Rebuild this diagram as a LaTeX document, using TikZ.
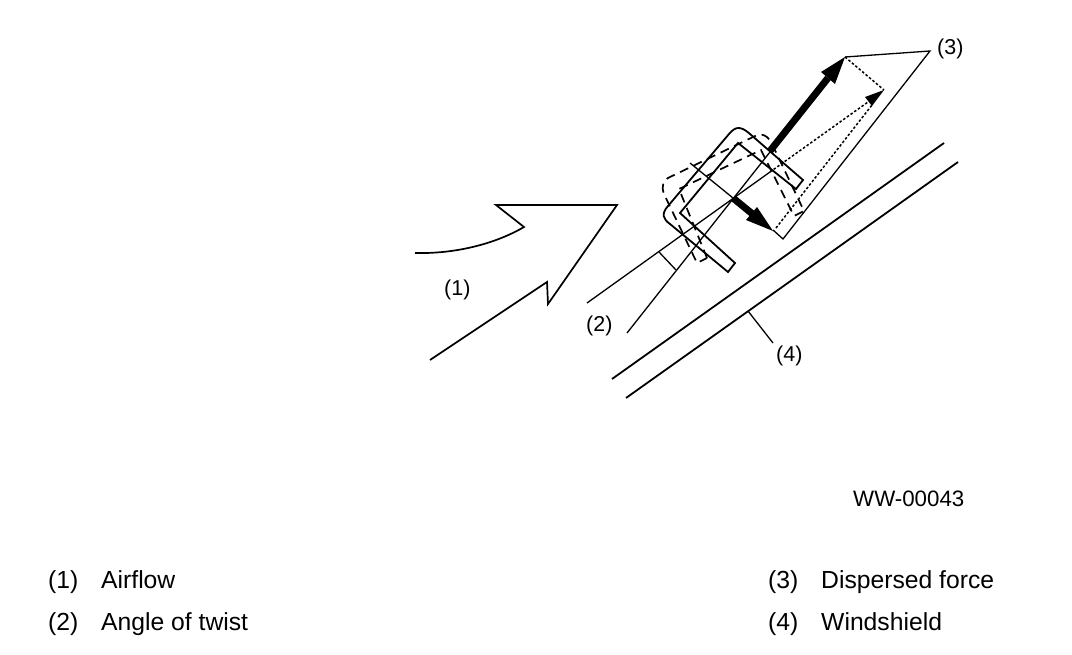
\documentclass[tikz,border=0pt]{standalone}
\usepackage{fontspec}
\setmainfont{Liberation Sans}
\begin{document}
\begin{tikzpicture}[x=1pt,y=-1pt,
  thinl/.style={line width=1.3pt,line join=miter},
  wiper/.style={line width=1.8pt,rounded corners=0pt},
  lab/.style={inner sep=0pt,font=\fontsize{24.7}{26}\selectfont,anchor=base west},
  dia/.style={inner sep=0pt,font=\fontsize{21.5}{24}\selectfont,anchor=base west},
  dot/.style={line width=1.5pt,dash pattern=on 2.5pt off 2pt},
  dsh/.style={line width=1.7pt,dash pattern=on 9pt off 6pt},
  hv/.style={line width=7pt},
  ]
\useasboundingbox (0,0) rectangle (1072,654);
% big arrow
\draw[line width=1.7pt,line join=miter] (415,253) .. controls (455,254) and (495,244) .. (524,227) -- (496,205) -- (617,205) -- (548,304) -- (547,282) -- (430,360);
% windshield
\draw[line width=1.8pt] (612,379) -- (944,143);
\draw[line width=1.8pt] (626,398) -- (958,162);
\coordinate (wsl) at (748,311);
\coordinate (wsr) at (773,343);
\draw[thinl] (wsl) -- (wsr);
% reference lines
\draw[thinl] (587,303) -- (770,172);
\draw[thinl] (627,333) -- (770,152);
\draw[thinl] (659,252) -- (676,270);
\draw[thinl] (690,163) -- (733,198);
% force parallelogram
\draw[thinl] (845,57) -- (930,51) -- (783,239) -- (773,230);
\draw[dot] (770,172) -- (868,102);
\draw[dot] (845,57) -- (884,90);
\draw[dot] (776,228) -- (872,105);
\fill (884,90) -- (865,97) -- (872,106) -- cycle;
% thick arrows
\draw[hv] (770,151) -- (828,78);
\fill (845,57) -- (821,72) -- (835,84) -- cycle;
\draw[hv] (733,198) -- (755,216);
\fill (773,231) -- (757,207) -- (746,220) -- cycle;
% solid wiper
\draw[wiper] (735,263) -- (680,213) -- (738,143) -- (796,189) -- (803,180)
  -- (750,134) .. controls (740,125) and (735,127) .. (729,134)
  -- (668,206) .. controls (661,214) and (663,219) .. (670,224) -- (728,272) -- cycle;
% dashed wiper
\draw[dsh] (707,258) -- (679,189) -- (761,150) -- (794,216) -- (804,211)
  -- (773,146) .. controls (768,135) and (762,132) .. (753,137)
  -- (670,177) .. controls (663,180) and (661,186) .. (664,194) -- (697,263) -- cycle;
% labels
\node[dia] (n3) at (937,54) {(3)};
\node[dia] (n1) at (444,295) {(1)};
\node[dia] (n2) at (586,331) {(2)};
\node[dia] (n4) at (776,361) {(4)};
\node[dia,font=\fontsize{22.3}{24}\selectfont] (code) at (853,506) {WW-00043};
\node[lab] (a1) at (48,588) {(1)};
\node[lab] (b1) at (101,588) {Airflow};
\node[lab] (a2) at (48,630) {(2)};
\node[lab] (b2) at (101,630) {Angle of twist};
\node[lab] (a3) at (768,588) {(3)};
\node[lab] (b3) at (821,588) {Dispersed force};
\node[lab] (a4) at (768,630) {(4)};
\node[lab] (b4) at (821,630) {Windshield};
\end{tikzpicture}
\end{document}
